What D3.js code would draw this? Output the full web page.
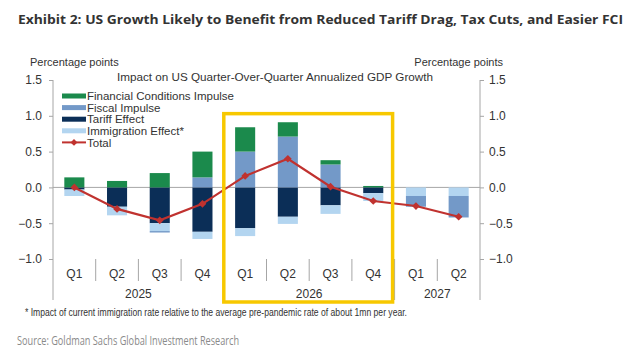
<!DOCTYPE html>
<html lang="en">
<head>
<meta charset="utf-8">
<title>US Growth Impulse</title>
<script src="https://d3js.org/d3.v7.min.js"></script>
<style>
  body { margin: 0; background: #fff; }
  svg { display: block; }
  .chartText { font-family: "Liberation Sans", Arial, sans-serif; fill: #333; }
</style>
</head>
<body>
<svg id="chart" width="640" height="352"></svg>
<script>
// data
var quarters = ["Q1", "Q2", "Q3", "Q4", "Q1", "Q2", "Q3", "Q4", "Q1", "Q2"]
var years = ["2025", "2026", "2027"]
var quarterYear = ["2025", "2025", "2025", "2025", "2026", "2026", "2026", "2026", "2027", "2027"]
var fci = [0.14, 0.09, 0.20, 0.36, 0.34, 0.20, 0.06, 0.02, 0, 0]
var fiscal = [0, 0, -0.02, 0.14, 0.50, 0.71, 0.32, 0, -0.15, -0.30]
var tariff = [-0.03, -0.27, -0.50, -0.62, -0.57, -0.41, -0.25, -0.08, 0, 0]
var immigration = [-0.09, -0.12, -0.11, -0.10, -0.11, -0.10, -0.12, -0.11, -0.12, -0.12]
var total = [0.0, -0.30, -0.46, -0.23, 0.16, 0.40, 0.01, -0.19, -0.26, -0.41]
var yTicks = [-1.0, -0.5, 0.0, 0.5, 1.0, 1.5]
var highlight = ["2026"]

// colours
var cFci = "#1b8a4c"
var cFiscal = "#7399c8"
var cTariff = "#0b2e57"
var cImmig = "#b3d5f0"
var cTotal = "#c0322f"
var cBox = "#f7c800"
var cAxis = "#a6a6a6"

var legendItems = [
  {key: "fci", label: "Financial Conditions Impulse", color: cFci},
  {key: "fiscal", label: "Fiscal Impulse", color: cFiscal},
  {key: "tariff", label: "Tariff Effect", color: cTariff},
  {key: "immigration", label: "Immigration Effect*", color: cImmig},
  {key: "total", label: "Total", color: cTotal}
]

var svg = d3.select("#chart")

var ids = quarters.map((q, i) => quarterYear[i] + " " + q)
var rows = ids.map((id, i) => ({
  id: id, fci: fci[i], fiscal: fiscal[i], tariff: tariff[i],
  immigration: immigration[i], total: total[i]
}))

var plotLeft = 53, plotRight = 480, plotTop = 80, plotBottom = 259

var x = d3.scaleBand().domain(ids).range([plotLeft, plotRight])
  .paddingInner(0.53).paddingOuter(0.265)
var y = d3.scaleLinear().domain([-1, 1.5]).range([plotBottom, plotTop])

// title
svg.append("text")
  .attr("x", 18).attr("y", 24)
  .attr("font-family", "'Open Sans', 'Liberation Sans', sans-serif")
  .attr("font-weight", "bold").attr("font-size", 13)
  .attr("fill", "#333")
  .attr("textLength", 605).attr("lengthAdjust", "spacingAndGlyphs")
  .text("Exhibit 2: US Growth Likely to Benefit from Reduced Tariff Drag, Tax Cuts, and Easier FCI")

// unit labels
svg.append("text").attr("class", "chartText")
  .attr("x", 30).attr("y", 66).attr("font-size", 11)
  .text("Percentage points")
svg.append("text").attr("class", "chartText")
  .attr("x", 503).attr("y", 66).attr("font-size", 11)
  .attr("text-anchor", "end")
  .text("Percentage points")

svg.append("text").attr("class", "chartText")
  .attr("x", 117).attr("y", 81).attr("font-size", 11)
  .attr("textLength", 316).attr("lengthAdjust", "spacingAndGlyphs")
  .text("Impact on US Quarter-Over-Quarter  Annualized GDP Growth")

// zero line
svg.append("line")
  .attr("x1", plotLeft).attr("x2", plotRight)
  .attr("y1", y(0)).attr("y2", y(0))
  .attr("stroke", cAxis).attr("stroke-width", 1)

// y axes
var leftAxis = svg.append("g").attr("transform", "translate(" + plotLeft + ",0)")
  .call(d3.axisLeft(y).tickValues(yTicks).tickFormat(d3.format(".1f")).tickSize(4).tickPadding(7))
var rightAxis = svg.append("g").attr("transform", "translate(" + plotRight + ",0)")
  .call(d3.axisRight(y).tickValues(yTicks).tickFormat(d3.format(".1f")).tickSize(4).tickPadding(5))
;[leftAxis, rightAxis].forEach(function(a){
  a.select(".domain").remove()
  a.selectAll("line").attr("stroke", cAxis)
  a.selectAll("text").attr("font-family", "'Liberation Sans', Arial, sans-serif")
    .attr("font-size", 12).attr("fill", "#333")
})
// long axis lines down to the year row
svg.append("line").attr("x1", plotLeft).attr("x2", plotLeft)
  .attr("y1", plotTop).attr("y2", 300).attr("stroke", cAxis)
svg.append("line").attr("x1", plotRight).attr("x2", plotRight)
  .attr("y1", plotTop).attr("y2", 300).attr("stroke", cAxis)

// category separators
var step = x.step()
ids.forEach(function(id, i){
  if (i === 0) return
  var bx = x(id) - step * x.paddingInner() / 2
  var yearBreak = quarterYear[i] !== quarterYear[i - 1]
  svg.append("line")
    .attr("x1", bx).attr("x2", bx)
    .attr("y1", plotBottom).attr("y2", yearBreak ? 300 : 281)
    .attr("stroke", cAxis)
})

// quarter labels
svg.append("g").selectAll("text").data(ids).join("text")
  .attr("class", "chartText")
  .attr("x", d => x(d) + x.bandwidth() / 2)
  .attr("y", 278).attr("font-size", 12).attr("text-anchor", "middle")
  .text((d, i) => quarters[i])

// year labels
svg.append("g").selectAll("text").data(years).join("text")
  .attr("class", "chartText")
  .attr("x", yr => {
    var qs = ids.filter((d, i) => quarterYear[i] === yr)
    return (x(qs[0]) + x(qs[qs.length - 1]) + x.bandwidth()) / 2
  })
  .attr("y", 298).attr("font-size", 12).attr("text-anchor", "middle")
  .text(d => d)

// stacked bars
var keys = ["tariff", "immigration", "fiscal", "fci"]
var colorOf = {fci: cFci, fiscal: cFiscal, tariff: cTariff, immigration: cImmig}
var series = d3.stack().keys(keys).offset(d3.stackOffsetDiverging)(rows)

svg.append("g").selectAll("g").data(series).join("g")
  .attr("fill", d => colorOf[d.key])
  .selectAll("rect").data(d => d).join("rect")
    .attr("x", d => x(d.data.id))
    .attr("width", x.bandwidth())
    .attr("y", d => y(Math.max(d[0], d[1])))
    .attr("height", d => Math.abs(y(d[0]) - y(d[1])))

// total line
var line = d3.line().x(d => x(d.id) + x.bandwidth() / 2).y(d => y(d.total))
svg.append("path").datum(rows)
  .attr("fill", "none").attr("stroke", cTotal).attr("stroke-width", 2.2)
  .attr("d", line)
svg.append("g").selectAll("path").data(rows).join("path")
  .attr("transform", d => "translate(" + (x(d.id) + x.bandwidth() / 2) + "," + y(d.total) + ")")
  .attr("d", d3.symbol(d3.symbolDiamond2, 38)())
  .attr("fill", cTotal)

// highlight box around 2026
highlight.forEach(function(yr){
  var qs = ids.filter((d, i) => quarterYear[i] === yr)
  var x0 = x(qs[0]) - step * x.paddingInner() / 2
  var x1 = x(qs[qs.length - 1]) + x.bandwidth() + step * x.paddingInner() / 2
  svg.append("rect")
    .attr("x", x0).attr("y", y(1.03))
    .attr("width", x1 - x0 - 2).attr("height", 302 - y(1.03))
    .attr("fill", "none").attr("stroke", cBox).attr("stroke-width", 3.5)
})

// legend
var legend = svg.append("g").attr("transform", "translate(62,96)")
var lg = legend.selectAll("g").data(legendItems).join("g")
  .attr("transform", (d, i) => "translate(0," + (i * 11.6) + ")")
lg.filter(d => d.key !== "total").append("rect")
  .attr("x", 0).attr("y", -2.5).attr("width", 24).attr("height", 5)
  .attr("fill", d => d.color)
var lt = lg.filter(d => d.key === "total")
lt.append("line").attr("x1", 0).attr("x2", 24).attr("y1", 0).attr("y2", 0)
  .attr("stroke", cTotal).attr("stroke-width", 2)
lt.append("path").attr("transform", "translate(12,0)")
  .attr("d", d3.symbol(d3.symbolDiamond2, 30)()).attr("fill", cTotal)
lg.append("text").attr("class", "chartText")
  .attr("x", 25).attr("y", 4.2).attr("font-size", 11.5)
  .text(d => d.label)

// footnote and source
svg.append("text").attr("class", "chartText")
  .attr("x", 25).attr("y", 316).attr("font-size", 10)
  .attr("textLength", 382).attr("lengthAdjust", "spacingAndGlyphs")
  .text("* Impact of current immigration rate relative to the average pre-pandemic rate of about 1mn per year.")
svg.append("text")
  .attr("x", 17).attr("y", 345)
  .attr("font-family", "'Open Sans', 'Liberation Sans', sans-serif")
  .attr("font-size", 12.5).attr("fill", "#8a8a8a")
  .attr("textLength", 222).attr("lengthAdjust", "spacingAndGlyphs")
  .text("Source: Goldman Sachs Global Investment Research")
</script>
</body>
</html>
